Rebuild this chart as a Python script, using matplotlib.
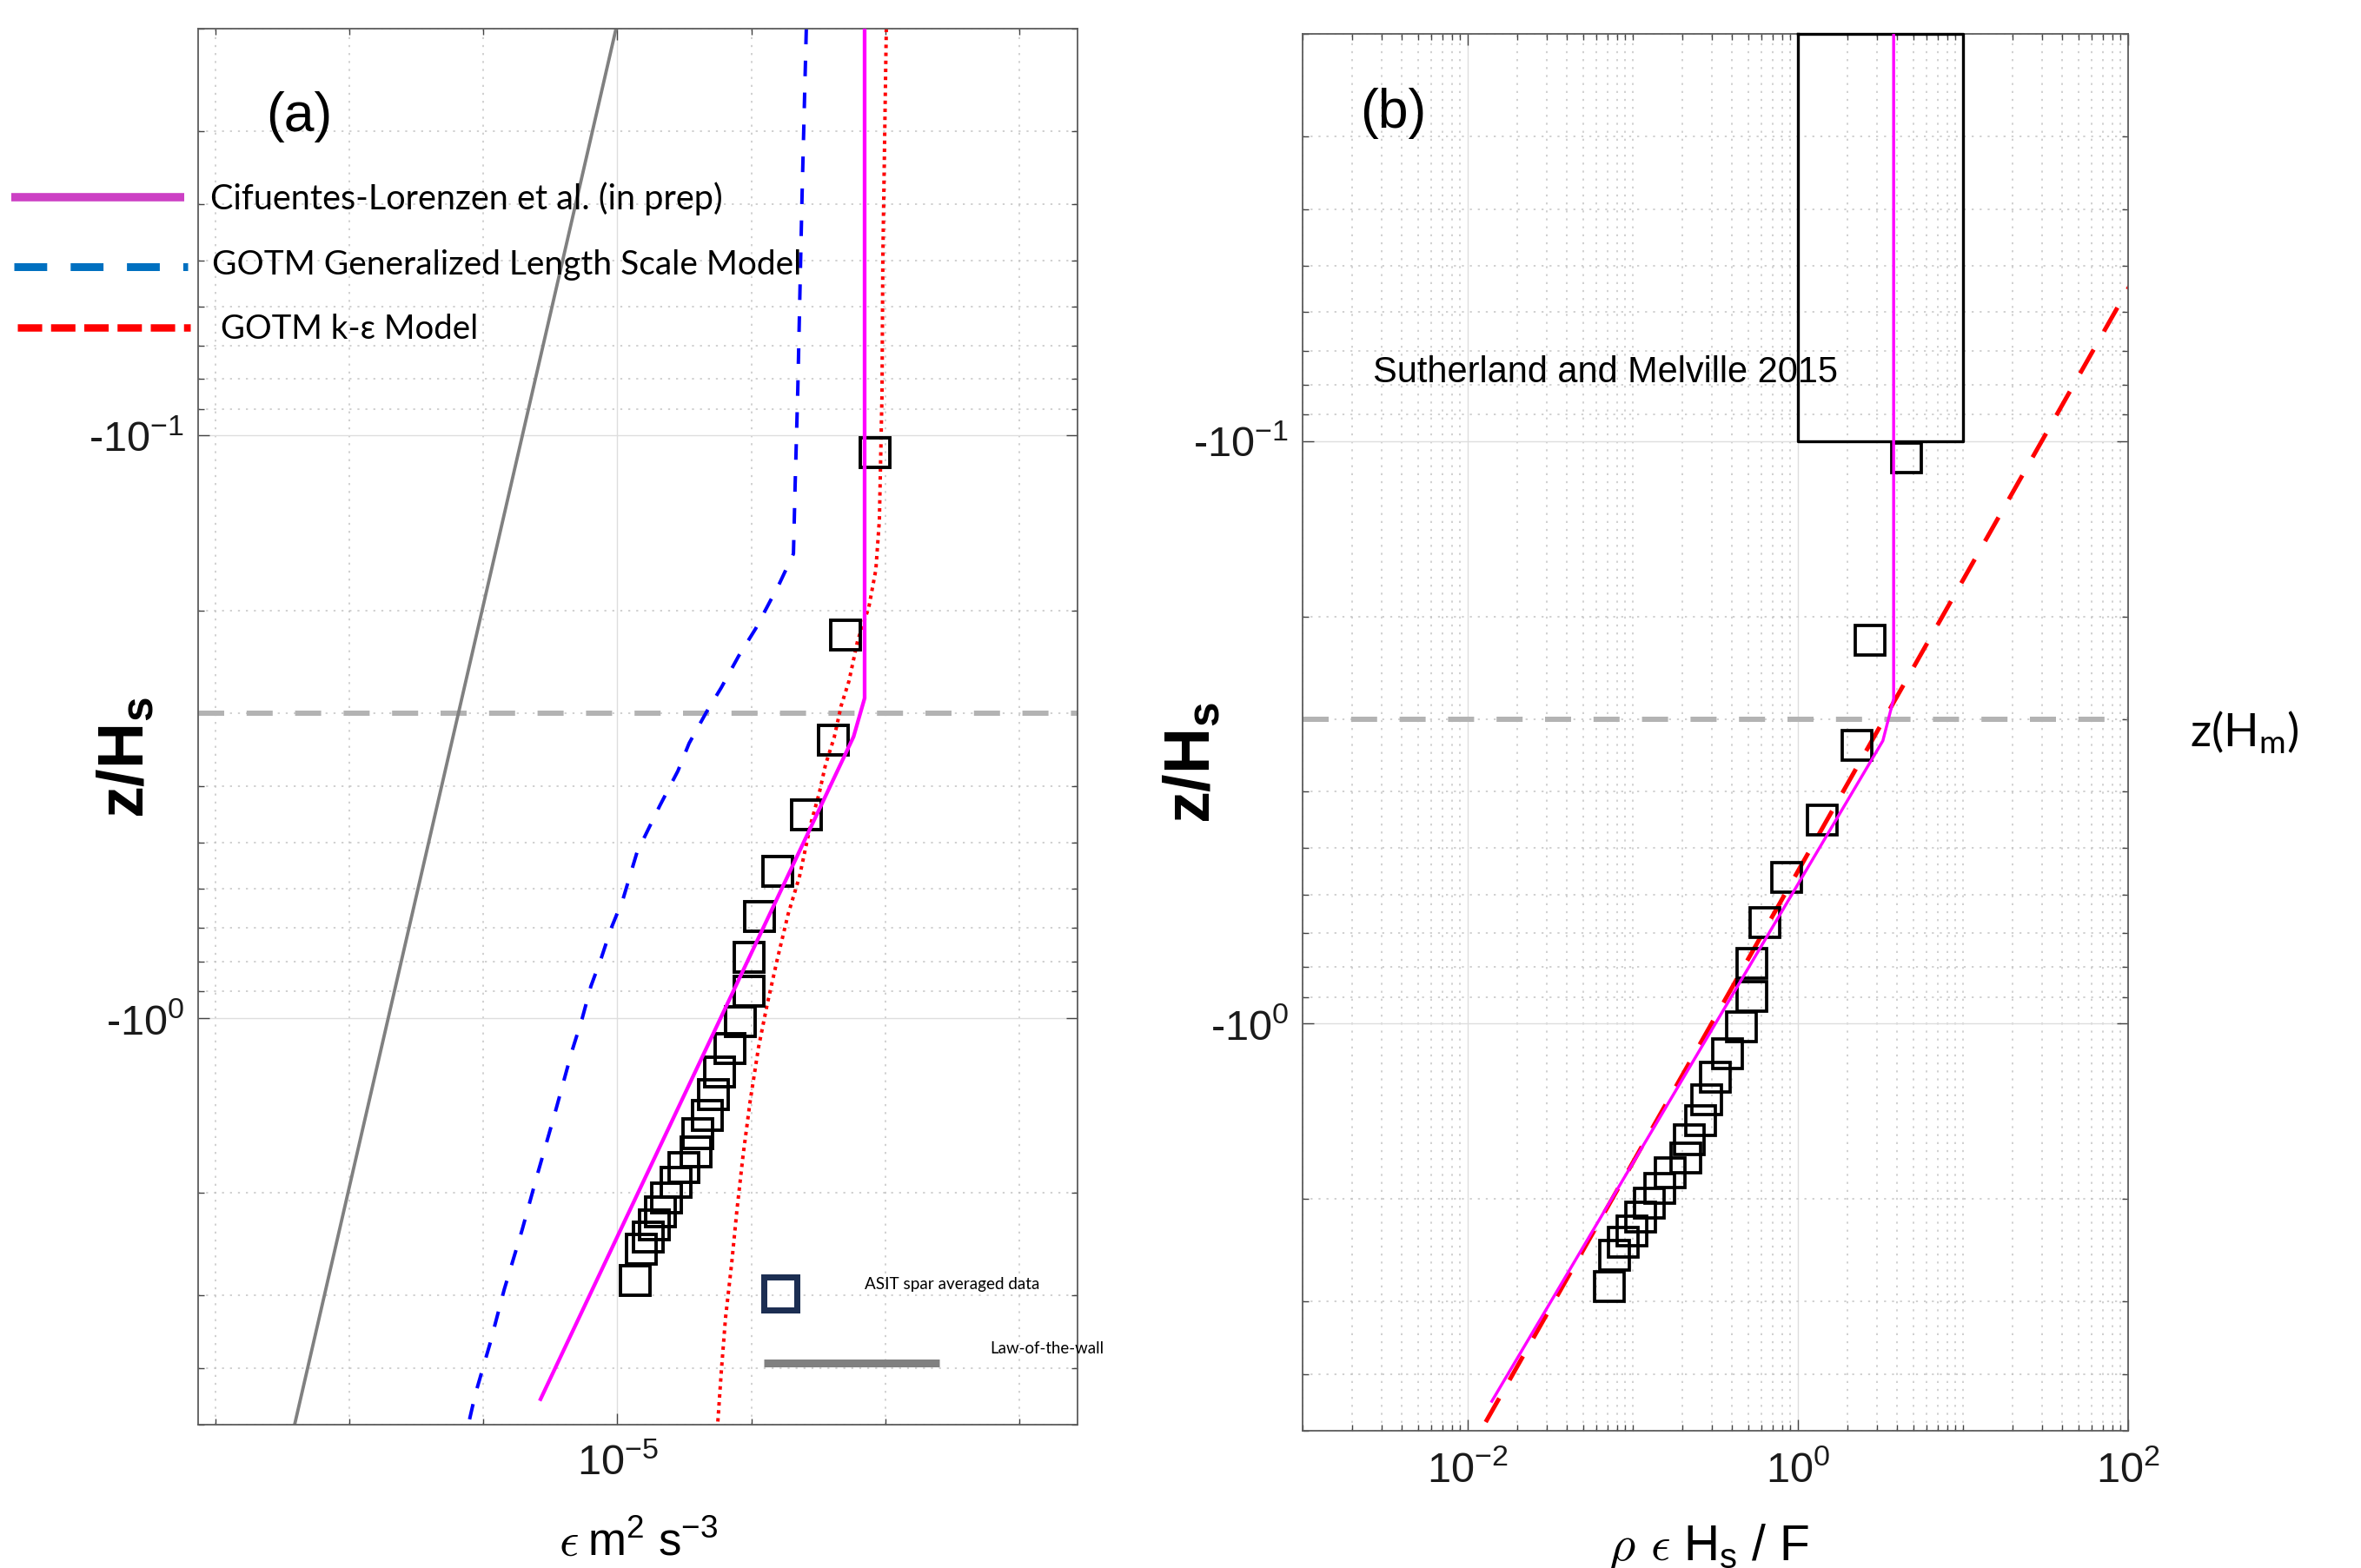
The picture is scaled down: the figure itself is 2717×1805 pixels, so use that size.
import numpy as np
import matplotlib
matplotlib.use('Agg')
import matplotlib.pyplot as plt
from matplotlib.lines import Line2D
from matplotlib.ticker import FixedLocator, FixedFormatter, NullFormatter

plt.rcParams['font.family'] = ['Liberation Sans', 'DejaVu Sans']
plt.rcParams['mathtext.fontset'] = 'custom'
plt.rcParams['mathtext.rm'] = 'Liberation Sans'
plt.rcParams['mathtext.it'] = 'Liberation Sans:italic'
plt.rcParams['mathtext.bf'] = 'Liberation Sans:bold'
plt.rcParams['mathtext.sf'] = 'Liberation Sans'

# ---------------- data ----------------
# ASIT spar averaged data (z/Hs, dissipation, scaled dissipation)
z_obs = [-0.107, -0.220, -0.333, -0.448, -0.561, -0.671, -0.787, -0.899, -1.014,
         -1.128, -1.238, -1.353, -1.469, -1.581, -1.699, -1.806, -1.916, -2.037,
         -2.152, -2.266, -2.377, -2.495, -2.831]
eps_obs = [8.38e-4, 5.03e-4, 4.09e-4, 2.58e-4, 1.57e-4, 1.15e-4, 9.6e-5, 9.6e-5,
           8.3e-5, 6.9e-5, 5.8e-5, 5.2e-5, 4.7e-5, 4.0e-5, 3.86e-5, 3.13e-5,
           2.74e-5, 2.32e-5, 2.09e-5, 1.89e-5, 1.70e-5, 1.50e-5, 1.35e-5]
scaled_obs = [4.55, 2.73, 2.28, 1.40, 0.855, 0.631, 0.526, 0.526, 0.455, 0.375,
              0.316, 0.280, 0.258, 0.220, 0.209, 0.168, 0.146, 0.126, 0.111,
              0.0989, 0.0875, 0.0774, 0.0721]

# Cifuentes-Lorenzen et al. (in prep)
z_cl_a = [-0.02, -0.2825, -0.329, -4.52]
eps_cl = [7.0e-4, 7.0e-4, 5.79e-4, 2.67e-6]
z_cl_b = [-0.02, -0.277, -0.327, -4.45]
scaled_cl = [3.8, 3.8, 3.27, 0.0140]

# GOTM Generalized Length Scale model
z_gls = [-0.020, -0.0385, -0.0833, -0.122, -0.1596, -0.1795, -0.2143, -0.2393,
         -0.271, -0.2985, -0.3377, -0.3767, -0.4325, -0.520, -0.626, -0.704,
         -0.789, -0.883, -1.003, -1.143, -1.469, -1.870, -2.31, -2.93, -3.63,
         -4.43, -5.0]
eps_gls = [2.57e-4, 2.39e-4, 2.22e-4, 2.12e-4, 2.06e-4, 1.62e-4, 1.08e-4, 8.02e-5,
           5.96e-5, 4.62e-5, 3.43e-5, 2.83e-5, 2.07e-5, 1.40e-5, 1.10e-5, 8.94e-6,
           7.59e-6, 6.34e-6, 5.46e-6, 4.57e-6, 3.39e-6, 2.51e-6, 1.95e-6, 1.43e-6,
           1.12e-6, 8.71e-7, 7.72e-7]

# GOTM k-epsilon model
z_ke = [-0.0200, -0.0498, -0.0845, -0.1396, -0.170, -0.197, -0.225, -0.264, -0.291,
        -0.330, -0.368, -0.410, -0.465, -0.571, -0.664, -0.789, -0.950, -1.125,
        -1.40, -1.73, -2.14, -2.64, -3.28, -4.06, -4.97]
eps_ke = [1.016e-3, 9.57e-4, 9.44e-4, 9.02e-4, 8.49e-4, 7.53e-4, 6.21e-4, 5.35e-4,
          4.68e-4, 4.15e-4, 3.57e-4, 3.22e-4, 2.77e-4, 2.29e-4, 1.88e-4, 1.57e-4,
          1.31e-4, 1.13e-4, 9.75e-5, 8.65e-5, 7.80e-5, 7.13e-5, 6.41e-5, 5.96e-5,
          5.61e-5]

# Law-of-the-wall
z_low = [-0.02, -5.0]
eps_low = [9.77e-6, 3.9e-8]

# GOTM k-eps scaled (panel b)
z_ke_b = [-0.05, -5.0]
scaled_ke = [120.0, 0.012]

# Sutherland and Melville 2015 box
sm_x = [1.0, 10.0, 10.0, 1.0, 1.0]
sm_z = [-0.02, -0.02, -0.1, -0.1, -0.02]

z_Hm = -0.3

ytick_vals = [0.1, 1.0]
ytick_labels = [r'-$\mathregular{10^{-1}}$', r'-$\mathregular{10^{0}}$']
xtick_a_vals = [1e-5]
xtick_a_labels = [r'$\mathregular{10^{-5}}$']
xtick_b_vals = [1e-2, 1.0, 1e2]
xtick_b_labels = [r'$\mathregular{10^{-2}}$', r'$\mathregular{10^{0}}$', r'$\mathregular{10^{2}}$']

# ---------------- figure ----------------
W, H = 2717, 1806
DPI = 100
fig = plt.figure(figsize=(W / DPI, H / DPI), dpi=DPI)


def fx(px):
    return px / W


def fy(py):
    return 1 - py / H


def pt(px):
    return px * 72.0 / DPI


axa = fig.add_axes([fx(228), fy(1641), fx(1240 - 228), (1641 - 34) / H])
axb = fig.add_axes([fx(1499), fy(1648), fx(2449 - 1499), (1648 - 40) / H])

neg = lambda v: -np.asarray(v)

y_minor = [0.02, 0.03, 0.04, 0.05, 0.06, 0.07, 0.08, 0.09,
           0.2, 0.3, 0.4, 0.5, 0.6, 0.7, 0.8, 0.9, 2, 3, 4, 5]


def style_axes(ax, xlim, xmaj, xlab, xminor):
    ax.set_xscale('log')
    ax.set_yscale('log')
    ax.set_xlim(*xlim)
    ax.set_ylim(5.0, 0.02)
    ax.xaxis.set_major_locator(FixedLocator(xmaj))
    ax.xaxis.set_major_formatter(FixedFormatter(xlab))
    ax.xaxis.set_minor_locator(FixedLocator(xminor))
    ax.xaxis.set_minor_formatter(NullFormatter())
    ax.yaxis.set_major_locator(FixedLocator(ytick_vals))
    ax.yaxis.set_major_formatter(FixedFormatter(ytick_labels))
    ax.yaxis.set_minor_locator(FixedLocator(y_minor))
    ax.yaxis.set_minor_formatter(NullFormatter())
    ax.set_axisbelow(True)
    ax.grid(True, which='major', color='#dedede', lw=1.0, ls='-')
    ax.grid(True, which='minor', color='#c4c4c4', lw=1.1, ls=(0, (1.5, 4.5)))
    ax.tick_params(which='both', direction='in', top=True, right=True,
                   colors='#444444', labelcolor='#1a1a1a', labelsize=35, width=1.0)
    ax.tick_params(which='major', length=pt(13))
    ax.tick_params(which='minor', length=pt(7))
    ax.tick_params(axis='x', which='major', pad=pt(22))
    ax.tick_params(axis='y', which='major', pad=pt(16))
    for s in ax.spines.values():
        s.set_color('#5c5c5c')
        s.set_linewidth(1.3)


xminor_a = [1e-8, 1e-7, 1e-6, 1e-4, 1e-3, 1e-2]
style_axes(axa, (10 ** -8.129, 10 ** -1.566), xtick_a_vals, xtick_a_labels, xminor_a)
xminor_b = [k * 10.0 ** n for n in range(-3, 2) for k in range(1, 10)
            if not (k == 1 and n in (-2, 0))] + [1e2]
style_axes(axb, (1e-3, 1e2), xtick_b_vals, xtick_b_labels, xminor_b)

# ---- panel (a) ----
axa.axhline(-z_Hm, color='#b3b3b3', lw=pt(6), dashes=(5, 4.3), zorder=1.5)
axa.plot(eps_low, neg(z_low), color='#808080', lw=pt(3.8), zorder=2)
axa.plot(eps_gls, neg(z_gls), color='#0000ff', lw=pt(4), dashes=(4.5, 4.7), zorder=2)
axa.plot(eps_ke, neg(z_ke), color='#ff0000', lw=pt(4), dashes=(1, 1.3), zorder=2)
axa.plot(eps_obs, neg(z_obs), ls='none', marker='s', ms=24, mfc='none',
         mec='black', mew=2.8, zorder=3)
axa.plot(eps_cl, neg(z_cl_a), color='#ff00ff', lw=pt(4.3), zorder=4)

# ---- panel (b) ----
axb.axhline(-z_Hm, color='#b3b3b3', lw=pt(6), dashes=(5, 4.3), zorder=1.5)
axb.plot(sm_x, neg(sm_z), color='black', lw=2.4, zorder=3, clip_on=False)
axb.plot(scaled_ke, neg(z_ke_b), color='#ff0000', lw=pt(5), dashes=(6.3, 4.8), zorder=2)
axb.plot(scaled_obs, neg(z_obs), ls='none', marker='s', ms=24, mfc='none',
         mec='black', mew=2.7, zorder=3)
axb.plot(scaled_cl, neg(z_cl_b), color='#ff00ff', lw=pt(3.4), zorder=4)

# ---------------- texts ----------------
renderer = fig.canvas.get_renderer()


def ftext(x, y, s, width=None, **kw):
    t = fig.text(fx(x), fy(y), s, **kw)
    if width is not None:
        bb = t.get_window_extent(renderer)
        t.set_fontsize(t.get_fontsize() * width / bb.width)
    return t


calib = ['Lato', 'DejaVu Sans']

# legend lines (top-left)
fig.add_artist(Line2D([fx(13), fx(212)], [fy(228), fy(228)], color='#cc40c4',
                      lw=pt(9.6), solid_capstyle='butt'))
fig.add_artist(Line2D([fx(16), fx(216)], [fy(308), fy(308)], color='#0070c0',
                      lw=pt(9), dashes=(4.2, 3.0)))
fig.add_artist(Line2D([fx(20), fx(219)], [fy(378), fy(378)], color='#ff0000',
                      lw=pt(8.5), dashes=(3.3, 1.2)))
ftext(242, 241, 'Cifuentes-Lorenzen et al. (in prep)', width=590, family=calib,
      fontsize=28, ha='left', va='baseline', zorder=10)
ftext(244, 316, 'GOTM Generalized Length Scale Model', width=679, family=calib,
      fontsize=28, ha='left', va='baseline', zorder=10)
ftext(254, 390, 'GOTM k-\u03b5 Model', width=296, family=calib,
      fontsize=28, ha='left', va='baseline', zorder=10)

# legend inside panel (a)
fig.add_artist(Line2D([fx(898)], [fy(1490)], ls='none', marker='s', ms=pt(38),
                      mfc='none', mec='#1c2e52', mew=pt(7)))
fig.add_artist(Line2D([fx(879), fx(1081)], [fy(1569.5), fy(1569.5)],
                      color='#808080', lw=pt(9), solid_capstyle='butt'))
ftext(995, 1484, 'ASIT spar averaged data', width=202, family=calib,
      fontsize=15, ha='left', va='baseline', zorder=10)
ftext(1139, 1558, 'Law-of-the-wall', width=131, family=calib,
      fontsize=15, ha='left', va='baseline', zorder=10)

# panel labels
ftext(306, 134, '(a)', fontsize=45, ha='left', va='center')
ftext(1565, 130, '(b)', fontsize=45, ha='left', va='center')
ftext(1580, 440, 'Sutherland and Melville 2015', width=536, fontsize=29,
      ha='left', va='baseline')
ftext(2520, 860, r'z(H$_{\mathregular{m}}$)', width=126, family=calib,
      fontsize=32, ha='left', va='baseline')

# axis labels
ftext(145, 872, r'z/H$_{\mathbf{s}}$', fontsize=53, fontweight='bold',
      rotation=90, ha='center', va='center')
ftext(1372, 878, r'z/H$_{\mathbf{s}}$', fontsize=53, fontweight='bold',
      rotation=90, ha='center', va='center')
# panel (a) x label: epsilon m^2 s^-3
ftext(643, 1791, r'$\epsilon$', fontsize=40, math_fontfamily='cm',
      ha='left', va='baseline')
ftext(676, 1791, r'm$^{\mathregular{2}}$ s$^{\mathregular{-3}}$', width=150,
      fontsize=40, ha='left', va='baseline')
# panel (b) x label: rho epsilon H_s / F
ftext(1851, 1796, r'$\rho$', fontsize=42, math_fontfamily='cm',
      ha='left', va='baseline')
ftext(1899, 1796, r'$\epsilon$', fontsize=40, math_fontfamily='cm',
      ha='left', va='baseline')
ftext(1937, 1796, r'H$_{\mathregular{s}}$ / F', width=145,
      fontsize=40, ha='left', va='baseline')

fig.savefig('out.png', dpi=DPI)
